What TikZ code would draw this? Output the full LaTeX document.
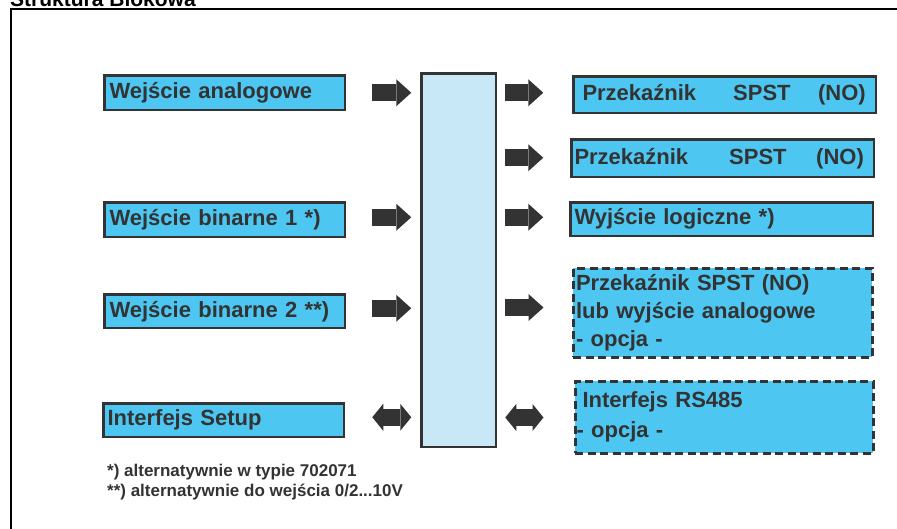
\documentclass[tikz,border=0pt]{standalone}
\usepackage{fontspec}
\setmainfont{Liberation Sans}
\usetikzlibrary{arrows.meta}
\definecolor{sky}{RGB}{77,199,242}
\definecolor{hubfill}{RGB}{200,232,248}
\definecolor{dk}{RGB}{51,51,51}
\newcommand{\boxfont}{\fontsize{22}{28}\selectfont\bfseries}
\newcommand{\notefont}{\fontsize{17}{20}\selectfont\bfseries}
\tikzset{
  inbox/.style={draw=dk, fill=sky, line width=2.5pt, anchor=north west,
    inner xsep=5pt, inner ysep=0pt, align=left, text=dk, font=\boxfont},
  optbox/.style={inbox, line width=3pt, dash pattern=on 8pt off 4.5pt},
  hubbox/.style={draw=dk, fill=hubfill, line width=2.5pt, anchor=north west,
    minimum width=74.5pt, minimum height=373.5pt, inner sep=0pt},
  blk/.style={draw=dk, line width=17pt,
    -{Triangle[length=15pt,width=27pt,line width=0pt]}},
  dbl/.style={draw=dk, line width=17pt,
    {Triangle[length=11pt,width=27pt,line width=0pt]}-{Triangle[length=11pt,width=27pt,line width=0pt]}},
  note/.style={anchor=base west, inner sep=0pt, text=dk, font=\notefont}
}
\begin{document}
\begin{tikzpicture}[x=1pt,y=-1pt]
\useasboundingbox (0,0) rectangle (897,528);
\clip (0,0) rectangle (897,528);
% frame
\draw[line width=2pt, black] (1000,8.5) -| (11,600);
\node[anchor=base west, inner sep=0pt, font=\fontsize{21}{24}\selectfont\bfseries] (title) at (10,6) {Struktura Blokowa};
% hub
\node[hubbox] (hub) at (420.25,72.25) {};
% inputs
\node[inbox, text width=230.5pt, minimum height=34.5pt] (a1) at (103.25,74.25) {Wejście analogowe};
\node[inbox, text width=230.5pt, minimum height=34.5pt] (b1) at (103.25,201.25) {Wejście binarne 1 *)};
\node[inbox, text width=230.5pt, minimum height=33.5pt] (b2) at (103.25,293.25) {Wejście binarne 2 **)};
\node[inbox, inner xsep=4pt, text width=232.5pt, minimum height=33.5pt] (s) at (102.25,402.25) {Interfejs Setup};
% outputs
\node[inbox, inner xsep=9pt, text width=284.5pt, minimum height=36.5pt] (r1) at (572.25,75.25) {Przekaźnik\hspace{37pt}SPST\hspace{27.5pt}(NO)};
\node[inbox, inner xsep=3pt, text width=296.5pt, minimum height=37.5pt] (r2) at (570.25,138.25) {Przekaźnik\hspace{41pt}SPST\hspace{29.5pt}(NO)};
\node[inbox, inner xsep=4pt, text width=294.5pt, minimum height=33.5pt] (r3) at (569.25,201.25) {Wyjście logiczne *)};
\node[optbox, inner xsep=3pt, text width=293pt, minimum height=89pt] (r4) at (571.5,266.5) {Przekaźnik SPST (NO)\\lub wyjście analogowe\\- opcja -};
\node[optbox, inner xsep=1.5pt, text width=295pt, minimum height=72pt] (r5) at (573.5,379.5) {\hspace*{6pt}Interfejs RS485\\[2pt]- opcja -};
% arrows in
\draw[blk, shorten <=26pt, shorten >=9pt] (a1.east) -- (a1.east -| hub.west);
\draw[blk, shorten <=26pt, shorten >=9pt] ([yshift=2.5pt]b1.east) -- ([yshift=2.5pt]b1.east -| hub.west);
\draw[blk, shorten <=26pt, shorten >=9pt] ([yshift=3pt]b2.east) -- ([yshift=3pt]b2.east -| hub.west);
\draw[dbl, shorten <=27pt, shorten >=9pt] ([yshift=3pt]s.east) -- ([yshift=3pt]s.east -| hub.west);
% arrows out
\draw[blk, shorten <=8pt, shorten >=29pt] ([yshift=2pt]r1.west -| hub.east) -- ([yshift=2pt]r1.west);
\draw[blk, shorten <=8pt, shorten >=27pt] ([yshift=0.5pt]r2.west -| hub.east) -- ([yshift=0.5pt]r2.west);
\draw[blk, shorten <=8pt, shorten >=26pt] ([yshift=2pt]r3.west -| hub.east) -- ([yshift=2pt]r3.west);
\draw[blk, shorten <=8pt, shorten >=28pt] ([yshift=5pt]r4.west -| hub.east) -- ([yshift=5pt]r4.west);
\draw[dbl, shorten <=8pt, shorten >=30pt] ([yshift=-0.5pt]r5.west -| hub.east) -- ([yshift=-0.5pt]r5.west);
% notes
\node[note] (n1) at (107,476) {*) alternatywnie w typie 702071};
\node[note] (n2) at (107,496) {**) alternatywnie do wejścia 0/2...10V};
\end{tikzpicture}
\end{document}
